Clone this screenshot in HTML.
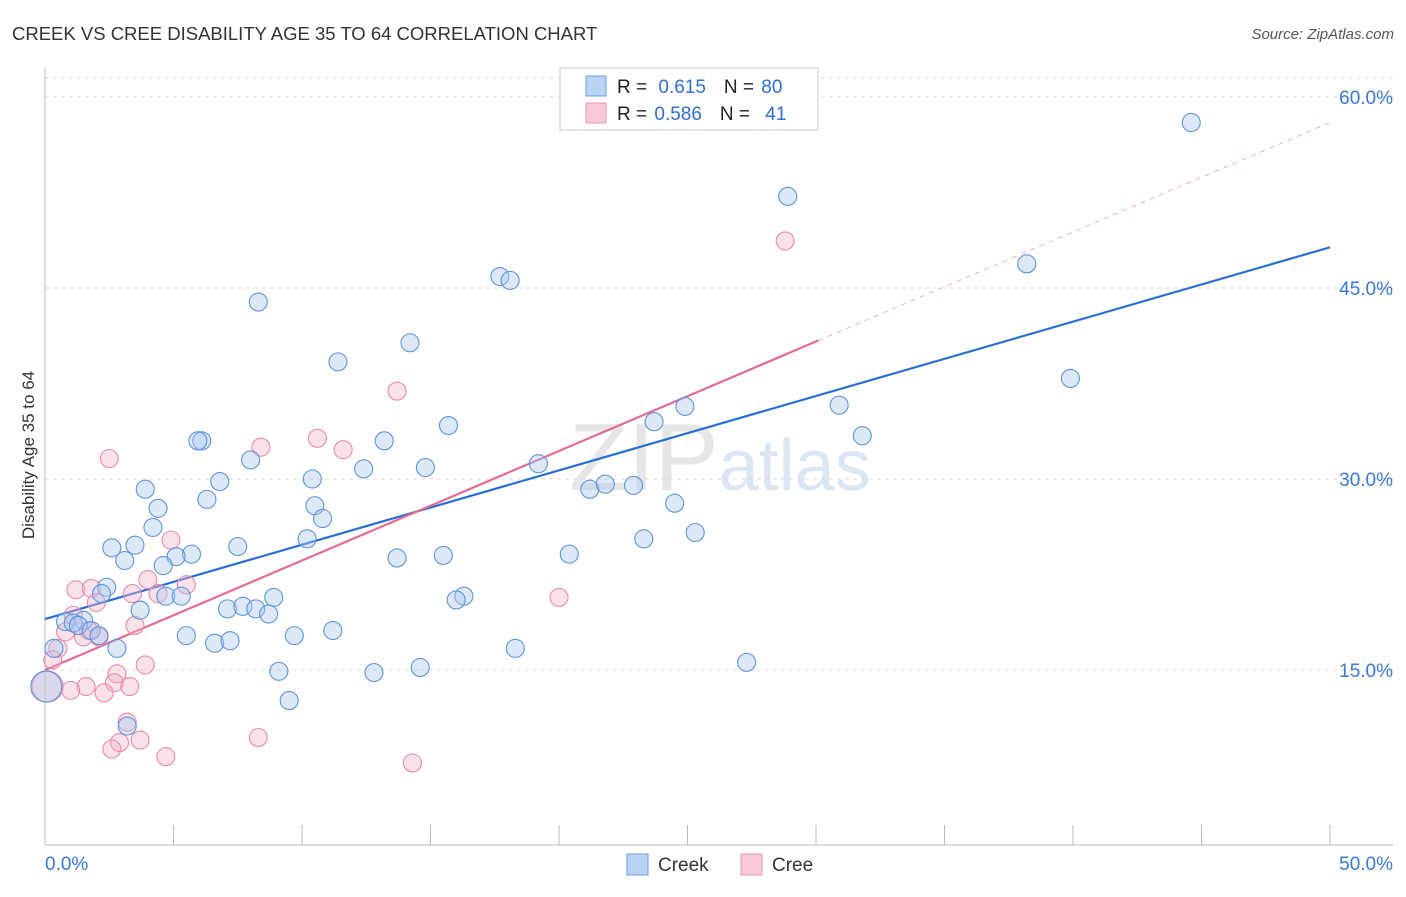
<!DOCTYPE html>
<html><head><meta charset="utf-8"><style>
body{margin:0;background:#fff;font-family:"Liberation Sans",sans-serif;}
svg text{font-family:"Liberation Sans",sans-serif;}
</style></head><body>
<svg id="chart" width="1406" height="892" xmlns="http://www.w3.org/2000/svg">
<text x="12" y="40" font-size="18.5" fill="#333">CREEK VS CREE DISABILITY AGE 35 TO 64 CORRELATION CHART</text>
<text x="1394" y="39" font-size="15" fill="#555" text-anchor="end" font-style="italic">Source: ZipAtlas.com</text>
<text x="34" y="455" font-size="17" fill="#333" text-anchor="middle" transform="rotate(-90 34 455)">Disability Age 35 to 64</text>
<text x="720" y="490" font-size="96" fill="#e6e6e6" text-anchor="middle" font-family="Liberation Serif">ZIP<tspan fill="#dbe6f5" font-family="Liberation Sans" font-size="72">atlas</tspan></text>
<g id="grid"></g><g id="axes"></g><g id="lines"></g><g id="points"></g>
<g>
<rect x="560" y="68" width="258" height="62" fill="#fff" stroke="#ccc"/>
<rect x="586" y="76" width="20" height="20" fill="#b9d3f5" stroke="#6a9be0"/>
<rect x="586" y="103" width="20" height="20" fill="#f9c9d8" stroke="#e895b0"/>
<text x="617" y="93" font-size="19" fill="#222">R = <tspan fill="#2f6fd6" dx="6">0.615</tspan><tspan fill="#222" dx="18">N = </tspan><tspan fill="#2f6fd6" dx="2">80</tspan></text>
<text x="617" y="120" font-size="19" fill="#222">R = <tspan fill="#2f6fd6" dx="2">0.586</tspan><tspan fill="#222" dx="18">N = </tspan><tspan fill="#2f6fd6" dx="10">41</tspan></text>
</g>
<g>
<rect x="627" y="854" width="21" height="21" fill="#b9d3f5" stroke="#6a9be0"/>
<text x="658" y="871" font-size="19" fill="#333">Creek</text>
<rect x="741" y="854" width="21" height="21" fill="#f9c9d8" stroke="#e895b0"/>
<text x="772" y="871" font-size="19" fill="#333">Cree</text>
</g>
</svg>
<script>
const yTicks=[15,30,45,60];
const yTickLabels=["15.0%","30.0%","45.0%","60.0%"];
const xTickLabels=["0.0%","50.0%"];
const creekX=[44.6,28.9,38.2,8.3,17.7,18.1,39.9,14.2,11.4,30.9,24.9,23.7,31.8,15.7,13.2,6.1,5.95,8.0,12.4,14.8,19.2,10.4,6.8,3.9,6.3,10.5,4.4,10.8,4.2,21.2,21.8,22.9,24.5,25.3,23.3,10.2,7.5,2.6,3.5,5.7,5.1,15.5,13.7,20.4,3.1,4.6,2.4,2.2,4.7,5.3,16.3,16.0,8.9,7.1,7.7,8.2,8.7,3.7,1.5,0.8,1.1,1.3,1.8,2.1,5.5,11.2,9.7,18.3,2.8,6.6,7.2,0.35,27.3,14.6,12.8,9.1,9.5,3.2,0.05];
const creekY=[58.0,52.2,46.9,43.9,45.9,45.6,37.9,40.7,39.2,35.8,35.7,34.5,33.4,34.2,33.0,33.0,33.0,31.5,30.8,30.9,31.2,30.0,29.8,29.2,28.4,27.9,27.7,26.9,26.2,29.2,29.6,29.5,28.1,25.8,25.3,25.3,24.7,24.6,24.8,24.1,23.9,24.0,23.8,24.1,23.6,23.2,21.5,21.0,20.8,20.8,20.8,20.5,20.7,19.8,20.0,19.8,19.4,19.7,18.9,18.8,18.7,18.5,18.1,17.7,17.7,18.1,17.7,16.7,16.7,17.1,17.3,16.7,15.6,15.2,14.8,14.9,12.6,10.6,13.7];
const creeX=[28.8,13.7,10.6,8.4,11.6,2.5,4.9,4.0,5.5,1.2,1.8,4.4,3.4,2.0,20.0,1.1,3.5,0.8,1.7,2.1,1.5,0.5,0.3,3.9,2.8,2.7,3.3,1.6,1.0,2.3,3.2,3.7,2.9,2.6,4.7,8.3,14.3,0.1];
const creeY=[48.7,36.9,33.2,32.5,32.3,31.6,25.2,22.1,21.7,21.3,21.4,21.0,21.0,20.3,20.7,19.3,18.5,18.0,18.1,17.6,17.6,16.7,15.8,15.4,14.7,14.0,13.7,13.7,13.4,13.2,10.9,9.5,9.3,8.8,8.2,9.7,7.7,13.7];
const creekLine=[19.0,48.2];
const creeLine=[15.0,0.86];
const NS="http://www.w3.org/2000/svg";
const sx=v=>45+v*25.7, sy=v=>861-v*12.733;
function mk(p,t,a){const e=document.createElementNS(NS,t);for(const k in a)e.setAttribute(k,a[k]);document.getElementById(p).appendChild(e);return e;}
yTicks.forEach((t,i)=>{
 const g=mk('grid','line',{x1:45,x2:1393,y1:sy(t),y2:sy(t),stroke:'#ddd','stroke-dasharray':'4,4'});
 
 
 const l=mk('grid','text',{x:1393,y:sy(t)+7,'font-size':19,fill:'#3a78d8','text-anchor':'end'});l.textContent=yTickLabels[i];
 
 
});
mk('grid','line',{x1:45,x2:1393,y1:78,y2:78,stroke:'#ddd','stroke-dasharray':'4,4'});
mk('axes','line',{x1:45,x2:45,y1:68,y2:845,stroke:'#bbb'});
mk('axes','line',{x1:45,x2:1393,y1:845,y2:845,stroke:'#bbb'});
for(let i=0;i<=10;i++){mk('axes','line',{x1:sx(i*5),x2:sx(i*5),y1:825,y2:845,stroke:'#bbb'});}
[[0,'start'],[50,'end']].forEach((d,i)=>{const t=mk('axes','text',{x:i?1393:45,y:870,'font-size':19,fill:'#3a78d8','text-anchor':d[1]});t.textContent=xTickLabels[i];
 
 });
const bl=mk('lines','line',{x1:sx(0),y1:sy(creekLine[0]),x2:sx(50),y2:sy(creekLine[1]),stroke:'#2a6fd6','stroke-width':2.2});


const pe=30.1;
const pl=mk('lines','line',{x1:sx(0),y1:sy(creeLine[0]),x2:sx(pe),y2:sy(creeLine[0]+creeLine[1]*pe),stroke:'#e56a93','stroke-width':2.2});


const pd=mk('lines','line',{x1:sx(pe),y1:sy(creeLine[0]+creeLine[1]*pe),x2:sx(50),y2:sy(creeLine[0]+creeLine[1]*50),stroke:'#eab0c2','stroke-width':1,'stroke-dasharray':'5,5'});


function pts(X,Y,fill,stroke,name){X.forEach((x,i)=>{const big=i===X.length-1;
 const c=mk('points','circle',{cx:sx(x),cy:sy(Y[i]),r:big?15.5:9,fill:fill,'fill-opacity':0.4,stroke:stroke,'stroke-width':1.1});
 
 });}
pts(creeX,creeY,'#f6b5ca','#e98aab','cree-point');
pts(creekX,creekY,'#a9c8f0','#5e93dd','creek-point');
</script>
</body></html>
